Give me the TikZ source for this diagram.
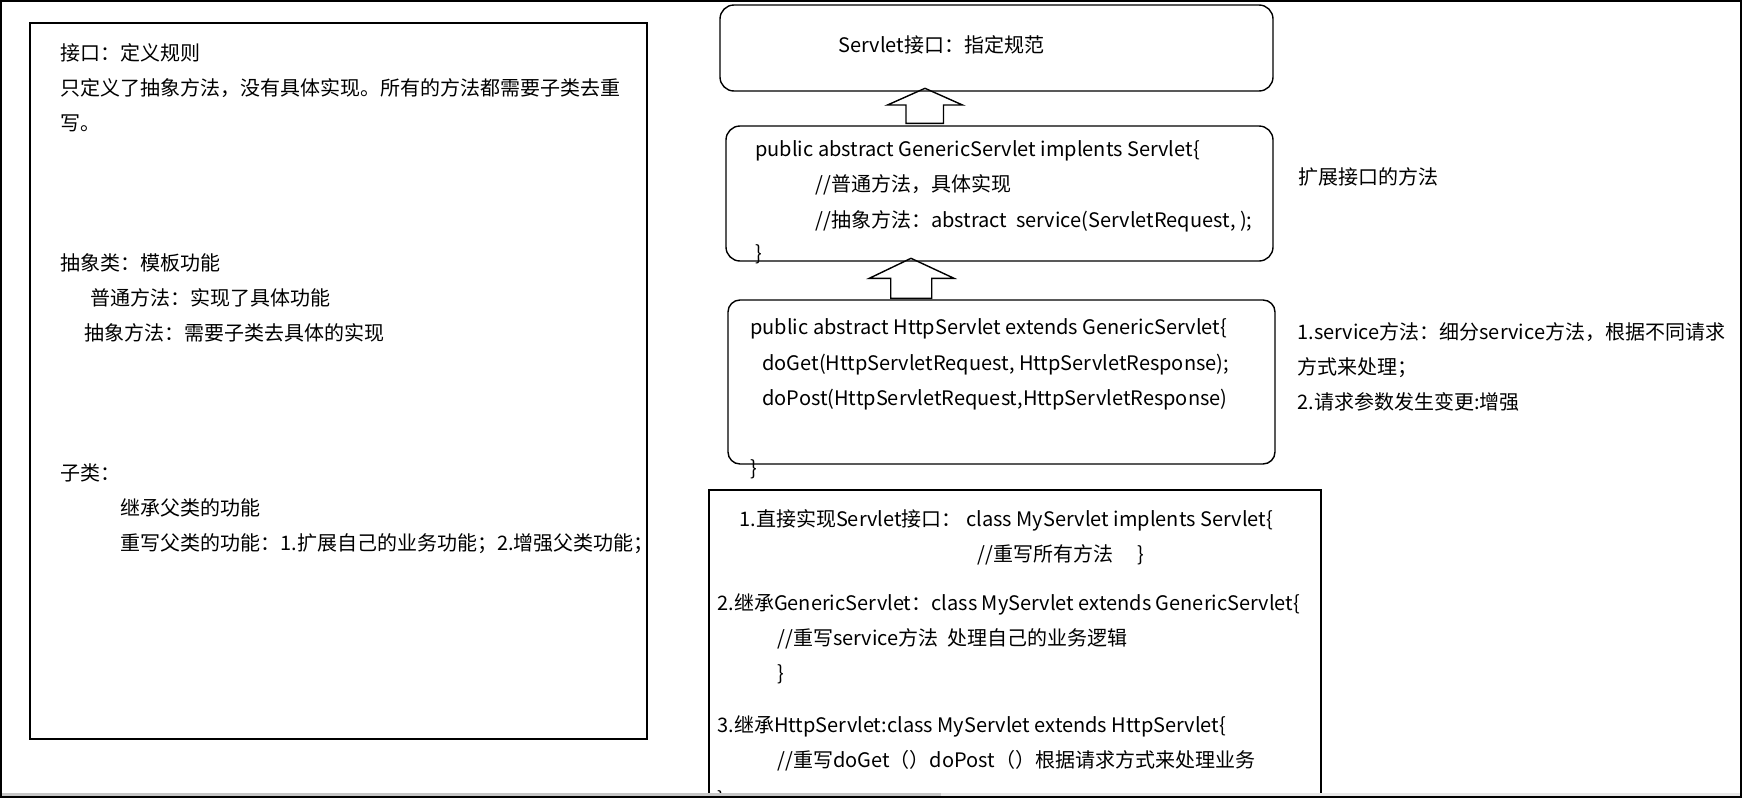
\documentclass[tikz,border=0pt]{standalone}
\usepackage{fontspec}
\setmainfont{Noto Sans CJK SC}
\usetikzlibrary{positioning}

\begin{document}
\begin{tikzpicture}[
	x=0.5pt, y=-0.5pt,
	font=\fontsize{10}{12}\selectfont,
	frame/.style={draw, line width=0.7pt, inner sep=0pt, outer sep=0pt, anchor=north west},
	roundbox/.style={frame, rounded corners=7pt},
	txt/.style={anchor=west, inner sep=0pt, text height=8.8pt, text depth=1.2pt},
	hollow/.style={draw, line width=0.7pt, line join=miter}
	]
	\useasboundingbox (0,0) rectangle (1742,798);

	\node[frame, minimum width=308.5pt, minimum height=358pt] (notes) at (30,23) {};
	\node[roundbox, minimum width=276.5pt, minimum height=43pt] (servlet) at (720,5) {};
	\node[roundbox, minimum width=273.5pt, minimum height=67.5pt] (generic) at (726,126) {};
	\node[roundbox, rounded corners=6pt, minimum width=273.5pt, minimum height=82pt] (http) at (728,300) {};
	\node[frame, minimum width=306pt, minimum height=153.5pt] (impl) at (709,490) {};

	\node[txt] (n1) at (60,53)  {接口：定义规则};
	\node[txt] (n2) at (60,88)  {只定义了抽象方法，没有具体实现。所有的方法都需要子类去重};
	\node[txt] (n3) at (60,123) {写。};
	\node[txt] (n4) at (60,263) {抽象类：模板功能};
	\node[txt] (n5) at (90,298) {普通方法：实现了具体功能};
	\node[txt] (n6) at (84,333) {抽象方法：需要子类去具体的实现};
	\node[txt] (n7) at (60,473) {子类：};
	\node[txt] (n8) at (120,508) {继承父类的功能};
	\node[txt] (n9) at (120,543) {重写父类的功能：1.扩展自己的业务功能；2.增强父类功能；};

	\node[txt] (s1) at (838,45)  {Servlet接口：指定规范};

	\node[txt] (g1) at (755,149) {public abstract GenericServlet implents Servlet\{};
	\node[txt] (g2) at (815,184) {//普通方法，具体实现};
	\node[txt] (g3) at (815,220) {//抽象方法：abstract\ \ service(ServletRequest, );};
	\node[txt] (g4) at (755,253) {\}};

	\node[txt] (h1) at (750,327) {public abstract HttpServlet extends GenericServlet\{};
	\node[txt] (h2) at (762,363) {doGet(HttpServletRequest, HttpServletResponse);};
	\node[txt] (h3) at (762,398) {doPost(HttpServletRequest,HttpServletResponse)};
	\node[txt] (h4) at (750,468) {\}};

	\node[txt] (i1) at (739,519) {1.直接实现Servlet接口：\ class MyServlet implents Servlet\{};
	\node[txt] (i2) at (977,554) {//重写所有方法\hspace{12pt}\}};
	\node[txt] (i3) at (717,603) {2.继承GenericServlet：class MyServlet extends GenericServlet\{};
	\node[txt] (i4) at (777,638) {//重写service方法\ \ 处理自己的业务逻辑};
	\node[txt] (i5) at (777,673) {\}};
	\node[txt] (i6) at (717,725) {3.继承HttpServlet:class MyServlet extends HttpServlet\{};
	\node[txt] (i7) at (777,760) {//重写doGet（）doPost（）根据请求方式来处理业务};
	\node[txt] (i8) at (717,799) {\}};

	\node[txt] (r1) at (1298,177) {扩展接口的方法};
	\node[txt] (r2) at (1297,332) {1.service方法：细分service方法，根据不同请求};
	\node[txt] (r3) at (1297,367) {方式来处理；};
	\node[txt] (r4) at (1297,402) {2.请求参数发生变更:增强};

	\coordinate (tip1) at (925,88.3);
	\coordinate (tip2) at (911,258.3);
	\draw[hollow] (tip1) -- ++(37.5,16.7) -- ++(-19,0) -- ++(0,18.3) -- ++(-37.5,0) -- ++(0,-18.3) -- ++(-18.5,0) -- cycle;
	\draw[hollow] (tip2) -- ++(43,20) -- ++(-22.3,0) -- ++(0,20) -- ++(-41,0) -- ++(0,-20) -- ++(-21.4,0) -- cycle;

	\fill[black!22] (0,793) rectangle (941,797);
	\fill[black!9] (941,793) rectangle (1742,797);
	\draw[line width=1pt] (1,1) rectangle (1741,797);
\end{tikzpicture}
\end{document}
